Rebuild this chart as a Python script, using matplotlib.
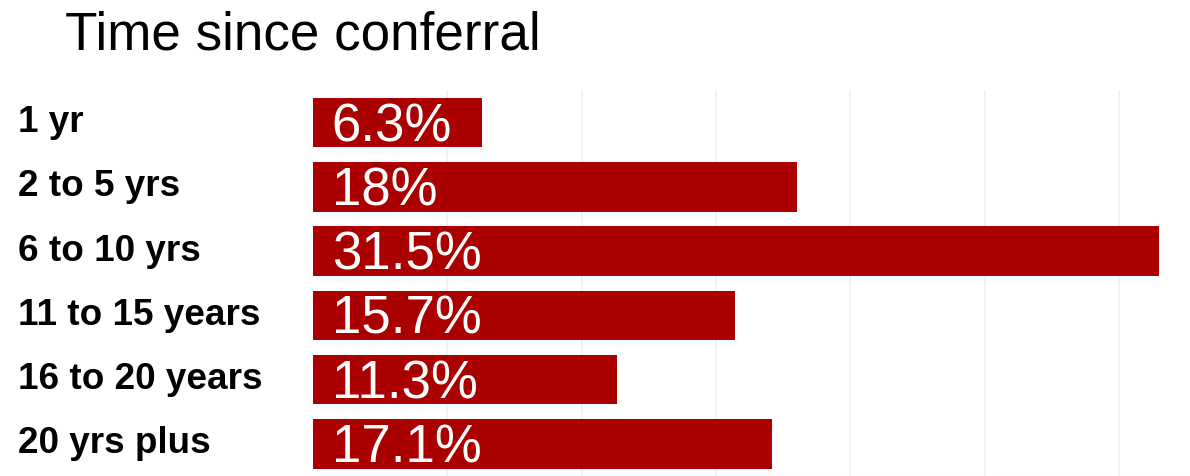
#!/usr/bin/env python3

import matplotlib

matplotlib.use("Agg")
import matplotlib.pyplot as plt
import matplotlib.transforms as mtransforms

plt.rcParams["font.family"] = ["Liberation Sans", "DejaVu Sans"]

categories = ["1 yr", "2 to 5 yrs", "6 to 10 yrs", "11 to 15 years", "16 to 20 years", "20 yrs plus"]
shares = [6.3, 18, 31.5, 15.7, 11.3, 17.1]
value_labels = ["6.3%", "18%", "31.5%", "15.7%", "11.3%", "17.1%"]

BAR_COLOR = "#aa0000"

fig = plt.figure(figsize=(11.9, 4.76), dpi=100)
ax = fig.add_axes([313 / 1190, 0.0, (1186 - 313) / 1190, 0.81])

positions = list(range(len(categories)))
ax.barh(positions, shares, height=0.77, color=BAR_COLOR, zorder=2)
ax.set_ylim(len(categories) - 0.5, -0.5)
ax.set_xlim(0, 32.5)

ax.set_xticks([5, 10, 15, 20, 25, 30])
ax.grid(axis="x", color="#f0f0f0", linewidth=1.2, zorder=0)
ax.tick_params(left=False, bottom=False, labelleft=False, labelbottom=False)
for side in ("top", "right", "left"):
    ax.spines[side].set_visible(False)
ax.spines["bottom"].set_color("#f0f0f0")

for pos, label in zip(positions, value_labels):
    ax.text(0.7, pos + 0.07, label, color="white", fontsize=38,
            va="center", ha="left", zorder=3)

# category names sit at the figure's left edge, aligned with each bar
label_trans = mtransforms.blended_transform_factory(fig.transFigure, ax.transData)
for pos, name in zip(positions, categories):
    ax.text(18 / 1190, pos, name, transform=label_trans, fontsize=26.6,
            fontweight="bold", va="center", ha="left", clip_on=False)

fig.text(65 / 1190, 1 - 36 / 476, "Time since conferral", fontsize=38.2,
         va="center", ha="left")

fig.savefig("out.png", dpi=100)
